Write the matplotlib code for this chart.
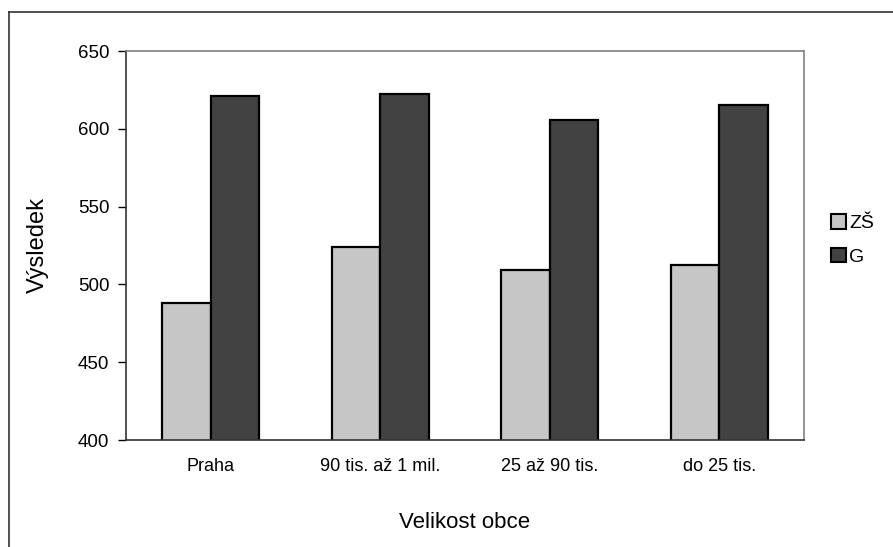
import numpy as np
import matplotlib
matplotlib.use('Agg')
import matplotlib.pyplot as plt
from matplotlib.lines import Line2D

plt.rcParams['font.family'] = ['Liberation Sans', 'DejaVu Sans']

categories = ['Praha', '90 tis. až 1 mil.', '25 až 90 tis.', 'do 25 tis.']
zs_values = [488, 524, 509, 512.5]
g_values = [621, 622.5, 605.5, 615]
series_names = ['ZŠ', 'G']
y_ticks = [400, 450, 500, 550, 600, 650]

fig = plt.figure(figsize=(8.93, 5.47), dpi=100)
ax = fig.add_axes([126/893, 1-440/547, (804-126)/893, (440-51)/547])

x = np.arange(len(categories))
w = 1/3.5
ax.bar(x - w/2, zs_values, w, color='#c6c6c6', edgecolor='black', linewidth=1.6,
       label=series_names[0], zorder=2)
ax.bar(x + w/2, g_values, w, color='#424242', edgecolor='black', linewidth=1.6,
       label=series_names[1], zorder=2)

ax.set_xlim(-0.5, len(categories) - 0.5)
ax.set_ylim(400, 650)
ax.set_yticks(y_ticks)
ax.set_xticks(x)
ax.set_xticklabels(categories, fontsize=13)
ax.tick_params(axis='x', length=0, pad=13)
ax.tick_params(axis='y', length=6, width=1, labelsize=13.5, pad=6, direction='out')

# excel style plot area border
ax.spines['top'].set_color('#808080')
ax.spines['right'].set_color('#808080')
ax.spines['left'].set_color('#333333')
ax.spines['bottom'].set_color('#333333')
for s in ax.spines.values():
    s.set_linewidth(1.2)

fig.text(38/893, 1-245/547, 'Výsledek', rotation=90, fontsize=17,
         ha='center', va='center')
fig.text(465/893, 1-522/547, 'Velikost obce', fontsize=16, ha='center', va='center')

leg = fig.legend(loc='center left', bbox_to_anchor=(831/893, 1-240/547),
                 frameon=False, fontsize=14, handlelength=0.75, handleheight=0.75,
                 handletextpad=0.2, labelspacing=0.8, borderpad=0, borderaxespad=0)
for h in leg.legend_handles:
    h.set_linewidth(1.5)

# outer chart frame (cut off at right and bottom)
fig.add_artist(Line2D([9/893, 1], [1-12/547, 1-12/547], color='#333333', lw=1.2,
                      transform=fig.transFigure))
fig.add_artist(Line2D([9/893, 9/893], [0, 1-12/547], color='#333333', lw=1.2,
                      transform=fig.transFigure))

fig.savefig('out.png', dpi=100, facecolor='white')
